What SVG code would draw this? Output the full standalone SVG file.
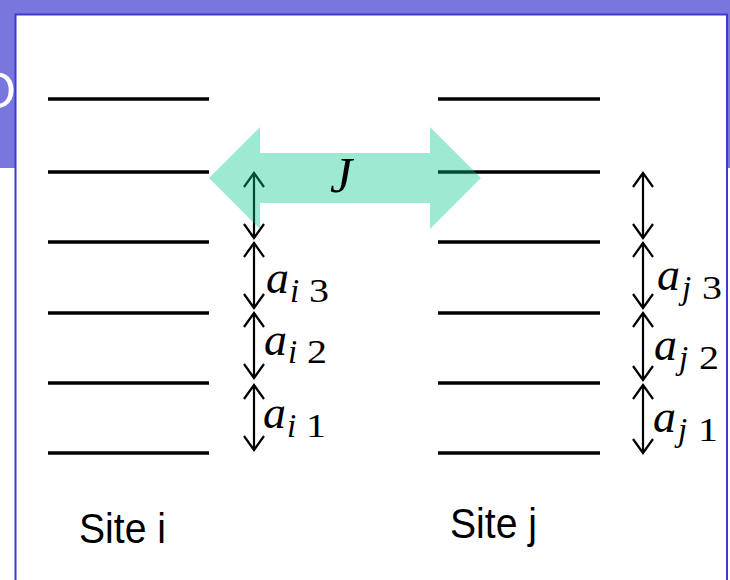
<svg xmlns="http://www.w3.org/2000/svg" width="730" height="580" viewBox="0 0 730 580">
  <style>
    .lvl { stroke: #000; stroke-width: 3.5; }
    .gap { stroke: #000; stroke-width: 2.2; fill: none; marker-start: url(#chev); marker-end: url(#chev); }
    .math { font-family: "Liberation Serif", "Times New Roman", serif; fill: #000; }
    .main { font-style: italic; font-size: 46px; }
    .sub { font-size: 33px; }
    .subi { font-size: 33px; font-style: italic; }
    .site { font-family: "Liberation Sans", Arial, sans-serif; font-size: 42px; fill: #000; }
  </style>
  <defs>
    <marker id="chev" markerUnits="userSpaceOnUse" orient="auto-start-reverse" refX="0" refY="0" markerWidth="30" markerHeight="30" overflow="visible">
      <path d="M -14 -10 L 0 0 L -14 10" fill="none" stroke="#000" stroke-width="2.2"/>
    </marker>
  </defs>

  <g id="background">
    <rect x="0" y="0" width="730" height="168" fill="#7977dd"/>
    <text x="-23" y="108" font-family="Liberation Sans, Arial, sans-serif" font-size="50" fill="#ffffff">O</text>
    <rect x="15.5" y="14.5" width="711.5" height="600" fill="#ffffff" stroke="#3c3cc8" stroke-width="2"/>
  </g>

  <g id="site-i">
    <line class="lvl" x1="48" y1="99" x2="209" y2="99"/>
    <line class="lvl" x1="48" y1="172" x2="209" y2="172"/>
    <line class="lvl" x1="48" y1="242" x2="209" y2="242"/>
    <line class="lvl" x1="48" y1="313" x2="209" y2="313"/>
    <line class="lvl" x1="48" y1="383" x2="209" y2="383"/>
    <line class="lvl" x1="48" y1="453" x2="209" y2="453"/>
    <text class="site" x="79" y="542.7" textLength="87" lengthAdjust="spacingAndGlyphs">Site i</text>
  </g>

  <g id="site-j">
    <line class="lvl" x1="438" y1="99" x2="600" y2="99"/>
    <line class="lvl" x1="438" y1="172" x2="600" y2="172"/>
    <line class="lvl" x1="438" y1="242" x2="600" y2="242"/>
    <line class="lvl" x1="438" y1="313" x2="600" y2="313"/>
    <line class="lvl" x1="438" y1="383" x2="600" y2="383"/>
    <line class="lvl" x1="438" y1="453" x2="600" y2="453"/>
    <text class="site" x="450" y="538.3" textLength="87" lengthAdjust="spacingAndGlyphs">Site j</text>
  </g>

  <g id="connectors">
    <line class="gap" x1="254" y1="173" x2="254" y2="238"/>
    <line class="gap" x1="254" y1="243" x2="254" y2="308"/>
    <line class="gap" x1="254" y1="313" x2="254" y2="378"/>
    <line class="gap" x1="254" y1="385" x2="254" y2="450"/>
    <line class="gap" x1="643" y1="173" x2="643" y2="238"/>
    <line class="gap" x1="643" y1="243" x2="643" y2="308"/>
    <line class="gap" x1="643" y1="313" x2="643" y2="380"/>
    <line class="gap" x1="643" y1="385" x2="643" y2="453"/>
  </g>

  <g id="labels-i" class="math">
    <text class="main" x="266" y="293">a</text>
    <text class="subi" x="290" y="302">i</text>
    <text class="sub" x="309" y="302" textLength="20" lengthAdjust="spacingAndGlyphs">3</text>
    <text class="main" x="264" y="355">a</text>
    <text class="subi" x="288" y="363">i</text>
    <text class="sub" x="307" y="363" textLength="20" lengthAdjust="spacingAndGlyphs">2</text>
    <text class="main" x="263" y="428">a</text>
    <text class="subi" x="287" y="437">i</text>
    <text class="sub" x="306" y="437" textLength="20" lengthAdjust="spacingAndGlyphs">1</text>
  </g>

  <g id="labels-j" class="math">
    <text class="main" x="657" y="290">a</text>
    <text class="subi" x="682" y="299">j</text>
    <text class="sub" x="702" y="299" textLength="20" lengthAdjust="spacingAndGlyphs">3</text>
    <text class="main" x="654" y="360">a</text>
    <text class="subi" x="679" y="369">j</text>
    <text class="sub" x="699" y="369" textLength="20" lengthAdjust="spacingAndGlyphs">2</text>
    <text class="main" x="653" y="432">a</text>
    <text class="subi" x="678" y="441">j</text>
    <text class="sub" x="698" y="441" textLength="20" lengthAdjust="spacingAndGlyphs">1</text>
  </g>

  <g id="coupling-J">
    <polygon points="209,178 260,127 260,153 430,153 430,127 481,178 430,229 430,203 260,203 260,229" fill="#00c48e" fill-opacity="0.38"/>
    <text class="math main" x="330" y="192" style="font-size:50px">J</text>
  </g>
</svg>
